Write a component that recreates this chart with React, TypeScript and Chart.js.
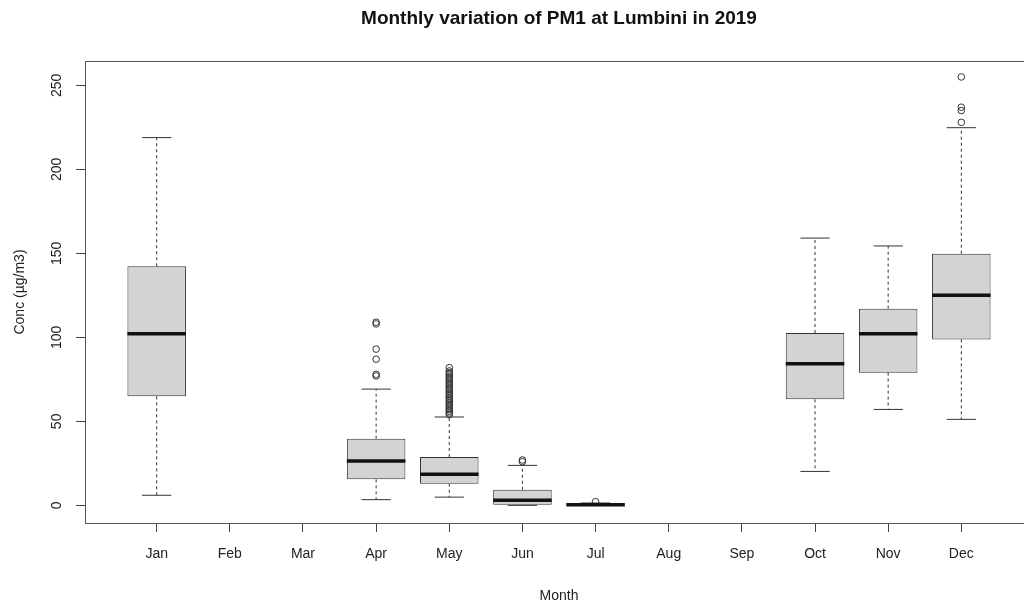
import React, { useEffect, useRef } from 'react';
import { Chart, registerables } from 'chart.js';

Chart.register(...registerables);

// ---- data ----
const monthLabels = ['Jan', 'Feb', 'Mar', 'Apr', 'May', 'Jun', 'Jul', 'Aug', 'Sep', 'Oct', 'Nov', 'Dec'];
const boxMonths = [1, 4, 5, 6, 7, 10, 11, 12];
const whiskerLow = [6.0, 3.4, 4.9, 0.0, 0.0, 20.2, 57.1, 51.2];
const quartile1 = [64.9, 15.5, 12.9, 0.0, 0.0, 63.1, 79.0, 98.8];
const medians = [102.2, 26.4, 18.5, 3.0, 0.3, 84.3, 102.2, 125.0];
const quartile3 = [142.3, 39.7, 28.8, 9.3, 0.7, 102.6, 117.1, 149.8];
const whiskerHigh = [218.9, 69.2, 52.6, 23.8, 1.4, 159.1, 154.4, 224.8];

const aprOutliers = [77, 78, 87, 93, 108, 109];
const mayOutliers = [54, 55, 56, 57, 58, 59, 60, 61, 62, 63, 64, 65, 66, 67, 68, 69, 70, 71, 72, 73, 74, 75, 76, 77, 78, 79, 80, 82];
const junOutliers = [26, 27];
const julOutliers = [2.2];
const decOutliers = [228, 235, 237, 255];
const outlierMonths = [4, 5, 6, 7, 12];
const outlierLists = [aprOutliers, mayOutliers, junOutliers, julOutliers, decOutliers];

const yTicks = [0, 50, 100, 150, 200, 250];
const monthTicks = [1, 2, 3, 4, 5, 6, 7, 8, 9, 10, 11, 12];

const chartTitle = 'Monthly variation of PM1 at Lumbini in 2019';
const xTitle = 'Month';
const yTitle = 'Conc (µg/m3)';

const FONT = "'Liberation Sans', Arial, Helvetica, sans-serif";

const framePlugin = {
  id: 'plotFrame',
  afterDatasetsDraw(chart: any) {
    const { ctx, chartArea } = chart;
    ctx.save();
    ctx.strokeStyle = '#555';
    ctx.lineWidth = 1;
    ctx.strokeRect(
      Math.round(chartArea.left) + 0.5,
      Math.round(chartArea.top) + 0.5,
      Math.round(chartArea.right - chartArea.left),
      Math.round(chartArea.bottom - chartArea.top)
    );
    ctx.restore();
  },
};

export default function App() {
  const canvasRef = useRef<HTMLCanvasElement | null>(null);

  useEffect(() => {
    if (!canvasRef.current) return;

    const boxData = boxMonths.map((m, i) => ({ x: m, y: [quartile1[i], quartile3[i]] }));
    const whiskerData: any[] = [];
    const capData: any[] = [];
    const medianData: any[] = [];
    boxMonths.forEach((m, i) => {
      whiskerData.push({ x: m, y: quartile3[i] }, { x: m, y: whiskerHigh[i] }, { x: m, y: null });
      whiskerData.push({ x: m, y: quartile1[i] }, { x: m, y: whiskerLow[i] }, { x: m, y: null });
      capData.push({ x: m - 0.2, y: whiskerHigh[i] }, { x: m + 0.2, y: whiskerHigh[i] }, { x: m, y: null });
      capData.push({ x: m - 0.2, y: whiskerLow[i] }, { x: m + 0.2, y: whiskerLow[i] }, { x: m, y: null });
      medianData.push({ x: m - 0.4, y: medians[i] }, { x: m + 0.4, y: medians[i] }, { x: m, y: null });
    });
    const outlierData: any[] = [];
    outlierMonths.forEach((m, i) => {
      outlierLists[i].forEach((v) => outlierData.push({ x: m, y: v }));
    });

    const chart = new Chart(canvasRef.current, {
      type: 'bar',
      data: {
        datasets: [
          {
            type: 'bar',
            data: boxData as any,
            backgroundColor: '#d3d3d3',
            borderColor: '#333',
            borderWidth: 1,
            borderSkipped: false,
            barPercentage: 0.8,
            categoryPercentage: 1,
            order: 5,
          } as any,
          {
            type: 'line',
            data: whiskerData,
            borderColor: '#333',
            borderWidth: 1,
            borderDash: [3, 3],
            pointRadius: 0,
            fill: false,
            spanGaps: false,
            order: 4,
          } as any,
          {
            type: 'line',
            data: capData,
            borderColor: '#333',
            borderWidth: 1,
            pointRadius: 0,
            fill: false,
            spanGaps: false,
            order: 3,
          } as any,
          {
            type: 'scatter',
            data: outlierData,
            pointStyle: 'circle',
            pointRadius: 3.3,
            borderColor: '#333',
            backgroundColor: 'rgba(0,0,0,0)',
            borderWidth: 1,
            order: 2,
          } as any,
          {
            type: 'line',
            data: medianData,
            borderColor: '#111',
            borderWidth: 3.5,
            borderCapStyle: 'butt',
            pointRadius: 0,
            fill: false,
            spanGaps: false,
            order: 1,
          } as any,
        ],
      },
      options: {
        animation: false,
        responsive: false,
        devicePixelRatio: 1,
        layout: { padding: { left: 0, right: 85, top: 0, bottom: 0 } },
        plugins: {
          legend: { display: false },
          tooltip: { enabled: false },
          title: {
            display: true,
            fullSize: false,
            text: chartTitle,
            color: '#111',
            font: { family: FONT, size: 19, weight: 'bold' },
            padding: { top: 7, bottom: 31.2 },
          },
        },
        scales: {
          x: {
            type: 'linear',
            min: 0.02,
            max: 12.98,
            offset: false,
            afterBuildTicks: (axis: any) => {
              axis.ticks = monthTicks.map((v) => ({ value: v }));
            },
            afterFit: (axis: any) => {
              axis.height = 83;
            },
            grid: { display: true, drawOnChartArea: false, drawTicks: true, tickLength: 9, color: '#444', offset: false },
            border: { display: false },
            ticks: {
              autoSkip: false,
              maxRotation: 0,
              padding: 14,
              color: '#222',
              font: { family: FONT, size: 14 },
              callback: (v: any) => monthLabels[Math.round(v) - 1] ?? '',
            },
            title: {
              display: true,
              text: xTitle,
              color: '#222',
              font: { family: FONT, size: 14 },
              padding: { top: 0, bottom: 1.5 },
            },
          },
          y: {
            type: 'linear',
            min: -10.5,
            max: 264.5,
            afterBuildTicks: (axis: any) => {
              axis.ticks = yTicks.map((v) => ({ value: v }));
            },
            afterFit: (axis: any) => {
              axis.width = 85;
            },
            grid: { display: true, drawOnChartArea: false, drawTicks: true, tickLength: 9, color: '#444' },
            border: { display: false },
            ticks: {
              minRotation: 90,
              maxRotation: 90,
              crossAlign: 'center',
              padding: 7,
              color: '#222',
              font: { family: FONT, size: 14 },
            },
            title: {
              display: true,
              text: yTitle,
              color: '#222',
              font: { family: FONT, size: 14 },
              padding: { top: 12, bottom: 0 },
            },
          },
        },
      } as any,
      plugins: [framePlugin],
    });

    return () => chart.destroy();
  }, []);

  return (
    <div
      style={{
        position: 'fixed',
        left: 0,
        top: 0,
        width: 1024,
        height: 606,
        overflow: 'hidden',
        background: '#fff',
      }}
    >
      <canvas ref={canvasRef} width={1118} height={606} style={{ display: 'block', width: 1118, height: 606 }} />
    </div>
  );
}
